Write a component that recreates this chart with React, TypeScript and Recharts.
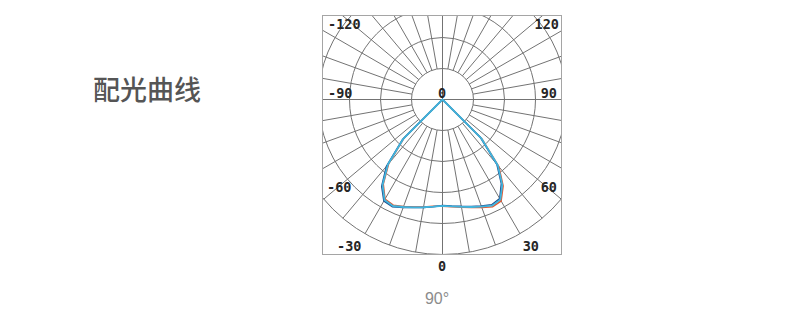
import { RadarChart, Radar, PolarGrid, PolarAngleAxis, PolarRadiusAxis } from "recharts";

// angle categories: 0 = straight down, 90 = right, 180 = up, 270 = left (-90)
const GRID_ANGLES = [
  0, 10, 20, 30, 40, 50, 60, 70, 80, 90, 100, 110,
  120, 130, 140, 150, 160, 170, 180, 190, 200, 210, 220, 230,
  240, 250, 260, 270, 280, 290, 300, 310, 320, 330, 340, 350,
];

const ANGLES = [
  0, 5, 10, 15, 20, 25, 30, 35, 40, 45, 50, 55,
  60, 65, 70, 75, 80, 85, 90, 95, 100, 105, 110, 115,
  120, 125, 130, 135, 140, 145, 150, 155, 160, 165, 170, 175,
  180, 185, 190, 195, 200, 205, 210, 215, 220, 225, 230, 235,
  240, 245, 250, 255, 260, 265, 270, 275, 280, 285, 290, 295,
  300, 305, 310, 315, 320, 325, 330, 335, 340, 345, 350, 355,
];

// intensity (cd) per plane
const C0_C180 = [
  343, 346, 352, 359, 368, 378, 373, 336, 278, 177, 0, 0,
  0, 0, 0, 0, 0, 0, 0, 0, 0, 0, 0, 0,
  0, 0, 0, 0, 0, 0, 0, 0, 0, 0, 0, 0,
  0, 0, 0, 0, 0, 0, 0, 0, 0, 0, 0, 0,
  0, 0, 0, 0, 0, 0, 0, 0, 0, 0, 0, 0,
  0, 0, 0, 178, 274, 337, 374, 379, 369, 360, 353, 347,
];
const C90_C270 = [
  342, 345, 350, 357, 366, 375, 369, 331, 273, 172, 0, 0,
  0, 0, 0, 0, 0, 0, 0, 0, 0, 0, 0, 0,
  0, 0, 0, 0, 0, 0, 0, 0, 0, 0, 0, 0,
  0, 0, 0, 0, 0, 0, 0, 0, 0, 0, 0, 0,
  0, 0, 0, 0, 0, 0, 0, 0, 0, 0, 0, 0,
  0, 0, 0, 182, 281, 342, 378, 382, 371, 361, 354, 347,
];
const C45_C225 = [
  344, 347, 353, 361, 371, 382, 378, 341, 283, 180, 0, 0,
  0, 0, 0, 0, 0, 0, 0, 0, 0, 0, 0, 0,
  0, 0, 0, 0, 0, 0, 0, 0, 0, 0, 0, 0,
  0, 0, 0, 0, 0, 0, 0, 0, 0, 0, 0, 0,
  0, 0, 0, 0, 0, 0, 0, 0, 0, 0, 0, 0,
  0, 0, 0, 175, 270, 333, 371, 376, 367, 359, 352, 346,
];

const AXIS_LABELS = [
  { text: "-120", x: 328, y: 29, anchor: "start" },
  { text: "120", x: 559, y: 29, anchor: "end" },
  { text: "-90", x: 328, y: 98, anchor: "start" },
  { text: "90", x: 557, y: 98, anchor: "end" },
  { text: "0", x: 442, y: 98, anchor: "middle" },
  { text: "-60", x: 327, y: 192, anchor: "start" },
  { text: "60", x: 557, y: 192, anchor: "end" },
  { text: "-30", x: 337, y: 251, anchor: "start" },
  { text: "30", x: 539, y: 251, anchor: "end" },
  { text: "0", x: 442, y: 271, anchor: "middle" },
];

const RING = 31;
const CX = 119.5;
const CY = 83.5;
const GRID = "#737373";
const NO_MARGIN = { top: 0, right: 0, bottom: 0, left: 0 };

export default function App() {
  const gridData = GRID_ANGLES.map((a) => ({ angle: a, v: 0 }));
  const curveData = ANGLES.map((a, i) => ({
    angle: a,
    c0: C0_C180[i],
    c90: C90_C270[i],
    c45: C45_C225[i],
  }));

  // Radar shifts category points by one band, so the curve chart starts one band early
  return (
    <div style={{ position: "absolute", left: 0, top: 0, width: 790, height: 320, background: "#fff" }}>
      <div
        style={{
          position: "absolute",
          left: 322,
          top: 15,
          width: 240,
          height: 240,
          boxSizing: "border-box",
          border: "1px solid #a5a5a5",
          overflow: "hidden",
        }}
      >
        {/* grid: rings + spokes every 10° */}
        <div style={{ position: "absolute", left: 0, top: 0 }}>
          <RadarChart
            width={238}
            height={238}
            data={gridData}
            cx={CX}
            cy={CY}
            innerRadius={RING}
            outerRadius={RING * 5}
            startAngle={-90}
            endAngle={270}
            margin={NO_MARGIN}
          >
            <PolarGrid gridType="circle" stroke={GRID} strokeWidth={1} />
            <PolarAngleAxis dataKey="angle" tick={false} tickLine={false} axisLine={false} />
            <PolarRadiusAxis domain={[0, 4]} tickCount={5} tick={false} axisLine={false} />
            <Radar dataKey="v" stroke="none" fill="none" isAnimationActive={false} />
          </RadarChart>
        </div>
        {/* curves + crosshair */}
        <div style={{ position: "absolute", left: 0, top: 0 }}>
          <RadarChart
            width={238}
            height={238}
            data={curveData}
            cx={CX}
            cy={CY}
            innerRadius={0}
            outerRadius={RING * 5}
            startAngle={-95}
            endAngle={265}
            margin={NO_MARGIN}
          >
            <PolarGrid gridType="circle" polarAngles={[0, 90, 180, 270]} polarRadius={[]} stroke={GRID} />
            <PolarAngleAxis dataKey="angle" tick={false} tickLine={false} axisLine={false} />
            <PolarRadiusAxis domain={[0, 500]} tick={false} axisLine={false} />
            <Radar dataKey="c45" stroke="#e4572e" strokeWidth={1.5} fill="none" isAnimationActive={false} />
            <Radar dataKey="c90" stroke="#1f4f8f" strokeWidth={1.5} fill="none" isAnimationActive={false} />
            <Radar dataKey="c0" stroke="#40b4dd" strokeWidth={1.8} strokeLinejoin="round" fill="none" isAnimationActive={false} />
          </RadarChart>
        </div>
      </div>

      <svg width={790} height={320} style={{ position: "absolute", left: 0, top: 0, pointerEvents: "none" }}>
        <text x={93} y={100} fontFamily="'Noto Sans CJK SC'" fontSize={27} fontWeight={500} fill="#555">
          配光曲线
        </text>
        {AXIS_LABELS.map((l, i) => (
          <text
            key={i}
            x={l.x}
            y={l.y}
            textAnchor={l.anchor as "start" | "end" | "middle"}
            fontFamily="'DejaVu Sans Mono'"
            fontSize={13.5}
            fontWeight="bold"
            fill="#262626"
          >
            {l.text}
          </text>
        ))}
        <text x={437} y={304} textAnchor="middle" fontFamily="'Liberation Sans'" fontSize={16} fill="#8c8c8c">
          90°
        </text>
      </svg>
    </div>
  );
}
